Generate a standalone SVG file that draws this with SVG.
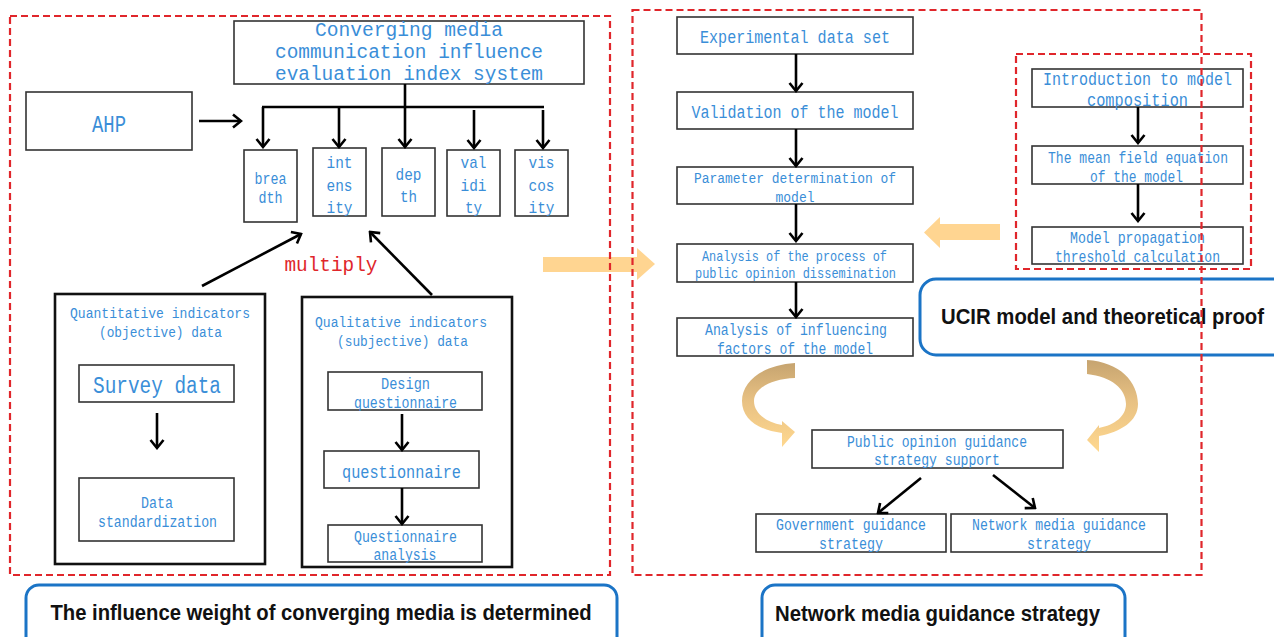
<svg xmlns="http://www.w3.org/2000/svg" width="1274" height="637" viewBox="0 0 1274 637">
<style>
.b{fill:#fff;stroke:#333;stroke-width:1.6}
.bb{fill:#fff;stroke:#111;stroke-width:2.6}
.t{font-family:"Liberation Mono","DejaVu Sans Mono",monospace;fill:#3a8ed8;text-anchor:middle}
.r{fill:none;stroke:#e0262b;stroke-width:2.2;stroke-dasharray:7 4}
.u{fill:none;stroke:#1b74c6;stroke-width:3}
.h{font-family:"Liberation Sans","Noto Sans",sans-serif;font-weight:bold;fill:#111;text-anchor:middle;font-size:22px}
.c{fill:none;stroke:#000;stroke-width:2.6}
</style>
<defs>
<marker id="ah" viewBox="-10 -8 12 16" refX="0" refY="0" markerWidth="12" markerHeight="16" markerUnits="userSpaceOnUse" orient="auto">
<path d="M-8,-6.5 L0,0 L-8,6.5" fill="none" stroke="#000" stroke-width="2.6"/>
</marker>
<linearGradient id="cg" x1="0" y1="0" x2="0" y2="1">
<stop offset="0" stop-color="#c6a470"/>
<stop offset="0.45" stop-color="#e8c183"/>
<stop offset="1" stop-color="#ffd88f"/>
</linearGradient>
</defs>

<g id="title"><rect class="b" x="234" y="21" width="350" height="63"/>
<text class="t" font-size="20.5" x="409" y="36" textLength="188" lengthAdjust="spacingAndGlyphs">Converging media</text>
<text class="t" font-size="20.5" x="409" y="58" textLength="268" lengthAdjust="spacingAndGlyphs">communication influence</text>
<text class="t" font-size="20.5" x="409" y="80" textLength="268" lengthAdjust="spacingAndGlyphs">evaluation index system</text></g>

<g id="ahp"><rect class="b" x="26" y="92" width="166" height="58"/>
<text class="t" font-size="23" x="109" y="132" textLength="34" lengthAdjust="spacingAndGlyphs">AHP</text></g>

<g id="breadth"><rect class="b" x="244" y="150" width="53" height="72"/>
<text class="t" font-size="16" x="270.5" y="184" textLength="32" lengthAdjust="spacingAndGlyphs">brea</text>
<text class="t" font-size="16" x="270.5" y="203" textLength="24" lengthAdjust="spacingAndGlyphs">dth</text></g>
<g id="intensity"><rect class="b" x="313" y="148" width="53" height="68"/>
<text class="t" font-size="17" x="339.5" y="168" textLength="26" lengthAdjust="spacingAndGlyphs">int</text>
<text class="t" font-size="17" x="339.5" y="191" textLength="26" lengthAdjust="spacingAndGlyphs">ens</text>
<text class="t" font-size="17" x="339.5" y="213" textLength="26" lengthAdjust="spacingAndGlyphs">ity</text></g>
<g id="depth"><rect class="b" x="382" y="148" width="53" height="68"/>
<text class="t" font-size="17" x="408.5" y="180" textLength="26" lengthAdjust="spacingAndGlyphs">dep</text>
<text class="t" font-size="17" x="408.5" y="202" textLength="17" lengthAdjust="spacingAndGlyphs">th</text></g>
<g id="validity"><rect class="b" x="447" y="150" width="53" height="66"/>
<text class="t" font-size="17" x="473.5" y="168" textLength="26" lengthAdjust="spacingAndGlyphs">val</text>
<text class="t" font-size="17" x="473.5" y="191" textLength="26" lengthAdjust="spacingAndGlyphs">idi</text>
<text class="t" font-size="17" x="473.5" y="213" textLength="17" lengthAdjust="spacingAndGlyphs">ty</text></g>
<g id="viscosity"><rect class="b" x="515" y="150" width="53" height="66"/>
<text class="t" font-size="17" x="541.5" y="168" textLength="26" lengthAdjust="spacingAndGlyphs">vis</text>
<text class="t" font-size="17" x="541.5" y="191" textLength="26" lengthAdjust="spacingAndGlyphs">cos</text>
<text class="t" font-size="17" x="541.5" y="213" textLength="26" lengthAdjust="spacingAndGlyphs">ity</text></g>

<g id="multiply"><text font-family="Liberation Mono,DejaVu Sans Mono,monospace" fill="#e0262b" text-anchor="middle" font-size="21" x="331" y="271" textLength="93" lengthAdjust="spacingAndGlyphs">multiply</text></g>

<g id="quantitative"><rect class="bb" x="55" y="294" width="210" height="270"/>
<text class="t" font-size="15.5" x="160" y="318" textLength="180" lengthAdjust="spacingAndGlyphs">Quantitative indicators</text>
<text class="t" font-size="15.5" x="160.5" y="337" textLength="123" lengthAdjust="spacingAndGlyphs">(objective) data</text></g>
<g id="survey"><rect class="b" x="79" y="365" width="155" height="37"/>
<text class="t" font-size="23" x="157" y="393" textLength="128" lengthAdjust="spacingAndGlyphs">Survey data</text></g>
<g id="standardization"><rect class="b" x="79" y="478" width="155" height="63"/>
<text class="t" font-size="15.8" x="157" y="508" textLength="32" lengthAdjust="spacingAndGlyphs">Data</text>
<text class="t" font-size="15.8" x="157.5" y="527" textLength="119" lengthAdjust="spacingAndGlyphs">standardization</text></g>

<g id="qualitative"><rect class="bb" x="302" y="297" width="210" height="270"/>
<text class="t" font-size="15.5" x="401" y="327" textLength="172" lengthAdjust="spacingAndGlyphs">Qualitative indicators</text>
<text class="t" font-size="15.5" x="402.5" y="346" textLength="131" lengthAdjust="spacingAndGlyphs">(subjective) data</text></g>
<g id="design"><rect class="b" x="328" y="372" width="154" height="38"/>
<text class="t" font-size="15.8" x="405.5" y="389" textLength="49" lengthAdjust="spacingAndGlyphs">Design</text>
<text class="t" font-size="15.8" x="405.5" y="408" textLength="103" lengthAdjust="spacingAndGlyphs">questionnaire</text></g>
<g id="questionnaire"><rect class="b" x="324" y="451" width="155" height="37"/>
<text class="t" font-size="18.3" x="401.5" y="478" textLength="119" lengthAdjust="spacingAndGlyphs">questionnaire</text></g>
<g id="qanalysis"><rect class="b" x="328" y="525" width="154" height="37"/>
<text class="t" font-size="15.8" x="405.5" y="542" textLength="103" lengthAdjust="spacingAndGlyphs">Questionnaire</text>
<text class="t" font-size="15.8" x="405" y="560" textLength="63" lengthAdjust="spacingAndGlyphs">analysis</text></g>

<g id="label-left"><rect class="u" x="26" y="585" width="591" height="70" rx="13"/>
<text class="h" x="321" y="620" textLength="541" lengthAdjust="spacingAndGlyphs">The influence weight of converging media is determined</text></g>

<g id="experimental"><rect class="b" x="677" y="17" width="236" height="37"/>
<text class="t" font-size="18" x="795" y="43" textLength="190" lengthAdjust="spacingAndGlyphs">Experimental data set</text></g>
<g id="validation"><rect class="b" x="677" y="92" width="236" height="37"/>
<text class="t" font-size="18" x="795" y="118" textLength="207" lengthAdjust="spacingAndGlyphs">Validation of the model</text></g>
<g id="parameter"><rect class="b" x="677" y="167" width="236" height="37"/>
<text class="t" font-size="15.5" x="795" y="183" textLength="202" lengthAdjust="spacingAndGlyphs">Parameter determination of</text>
<text class="t" font-size="15.5" x="795" y="202" textLength="39" lengthAdjust="spacingAndGlyphs">model</text></g>
<g id="process"><rect class="b" x="677" y="244" width="236" height="38"/>
<text class="t" font-size="14.2" x="794.5" y="261" textLength="185" lengthAdjust="spacingAndGlyphs">Analysis of the process of</text>
<text class="t" font-size="14.2" x="795.5" y="278" textLength="201" lengthAdjust="spacingAndGlyphs">public opinion dissemination</text></g>
<g id="factors"><rect class="b" x="677" y="318" width="236" height="38"/>
<text class="t" font-size="15.8" x="796" y="335" textLength="182" lengthAdjust="spacingAndGlyphs">Analysis of influencing</text>
<text class="t" font-size="15.8" x="795" y="354" textLength="156" lengthAdjust="spacingAndGlyphs">factors of the model</text></g>

<g id="intro"><rect class="b" x="1032" y="69" width="211" height="38"/>
<text class="t" font-size="18" x="1137.5" y="85" textLength="189" lengthAdjust="spacingAndGlyphs">Introduction to model</text>
<text class="t" font-size="18" x="1137.5" y="106" textLength="101" lengthAdjust="spacingAndGlyphs">composition</text></g>
<g id="meanfield"><rect class="b" x="1032" y="146" width="211" height="38"/>
<text class="t" font-size="15.7" x="1138" y="163" textLength="180" lengthAdjust="spacingAndGlyphs">The mean field equation</text>
<text class="t" font-size="15.7" x="1136.5" y="182" textLength="93" lengthAdjust="spacingAndGlyphs">of the model</text></g>
<g id="threshold"><rect class="b" x="1032" y="227" width="211" height="37"/>
<text class="t" font-size="15.7" x="1137.5" y="243" textLength="135" lengthAdjust="spacingAndGlyphs">Model propagation</text>
<text class="t" font-size="15.7" x="1137.5" y="262" textLength="165" lengthAdjust="spacingAndGlyphs">threshold calculation</text></g>

<g id="label-ucir"><rect class="u" x="920" y="279" width="370" height="76" rx="16"/>
<text class="h" x="1102.5" y="324" textLength="323" lengthAdjust="spacingAndGlyphs">UCIR model and theoretical proof</text></g>

<g id="support"><rect class="b" x="812" y="430" width="251" height="38"/>
<text class="t" font-size="15.6" x="937" y="447" textLength="180" lengthAdjust="spacingAndGlyphs">Public opinion guidance</text>
<text class="t" font-size="15.6" x="937" y="465" textLength="126" lengthAdjust="spacingAndGlyphs">strategy support</text></g>
<g id="government"><rect class="b" x="756" y="514" width="190" height="38"/>
<text class="t" font-size="15.8" x="851" y="530" textLength="150" lengthAdjust="spacingAndGlyphs">Government guidance</text>
<text class="t" font-size="15.8" x="851" y="549" textLength="64" lengthAdjust="spacingAndGlyphs">strategy</text></g>
<g id="network"><rect class="b" x="951" y="514" width="216" height="38"/>
<text class="t" font-size="15.8" x="1059" y="530" textLength="174" lengthAdjust="spacingAndGlyphs">Network media guidance</text>
<text class="t" font-size="15.8" x="1059" y="549" textLength="64" lengthAdjust="spacingAndGlyphs">strategy</text></g>

<g id="label-right"><rect class="u" x="762" y="585" width="363" height="70" rx="13"/>
<text class="h" x="937.5" y="621" textLength="325" lengthAdjust="spacingAndGlyphs">Network media guidance strategy</text></g>

<g id="connectors">
<path class="c" d="M405,84 V107 M262,107 H544"/>
<path class="c" marker-end="url(#ah)" d="M263,107 V147"/>
<path class="c" marker-end="url(#ah)" d="M339,107 V147"/>
<path class="c" marker-end="url(#ah)" d="M405,107 V147"/>
<path class="c" marker-end="url(#ah)" d="M474,110 V148"/>
<path class="c" marker-end="url(#ah)" d="M543,110 V148"/>
<path class="c" marker-end="url(#ah)" d="M199,121 H241"/>
<path class="c" marker-end="url(#ah)" d="M202,286 L301,234"/>
<path class="c" marker-end="url(#ah)" d="M432,295 L370,232"/>
<path class="c" marker-end="url(#ah)" d="M157,413 V448"/>
<path class="c" marker-end="url(#ah)" d="M402,414 V450"/>
<path class="c" marker-end="url(#ah)" d="M402,488 V524"/>
<path class="c" marker-end="url(#ah)" d="M796,54 V91"/>
<path class="c" marker-end="url(#ah)" d="M796,129 V166"/>
<path class="c" marker-end="url(#ah)" d="M796,204 V241"/>
<path class="c" marker-end="url(#ah)" d="M796,282 V317"/>
<path class="c" marker-end="url(#ah)" d="M1138,107 V143"/>
<path class="c" marker-end="url(#ah)" d="M1138,184 V221"/>
<path class="c" marker-end="url(#ah)" d="M921,478 L878,513"/>
<path class="c" marker-end="url(#ah)" d="M993,475 L1035,508"/>
<path fill="#ffd591" d="M543,257 H637 V248 L655,264 L637,280 V272 H543 Z"/>
<path fill="#ffd591" d="M1000,224 H940 V217 L924,232.5 L940,248 V240 H1000 Z"/>
<path fill="url(#cg)" d="M795,363 C762,365 742,382 742,401 C742,419 758,430 782,433 L782,447 L795,432 L782,421 L782,425 C766,422 754,413 754,401 C754,389 770,379 795,378 Z"/>
<path fill="url(#cg)" d="M1087,360 C1120,362 1138,382 1138,404 C1138,421 1121,432 1099,436 L1099,452 L1087,440 L1099,425 L1099,428 C1115,425 1126,416 1126,404 C1126,389 1112,377 1087,374 Z"/>
</g>

<g id="regions">
<rect class="r" x="10" y="16" width="600" height="559"/>
<rect class="r" x="632.5" y="10" width="569" height="565"/>
<rect class="r" x="1016" y="54" width="235" height="215"/>
</g>
</svg>
